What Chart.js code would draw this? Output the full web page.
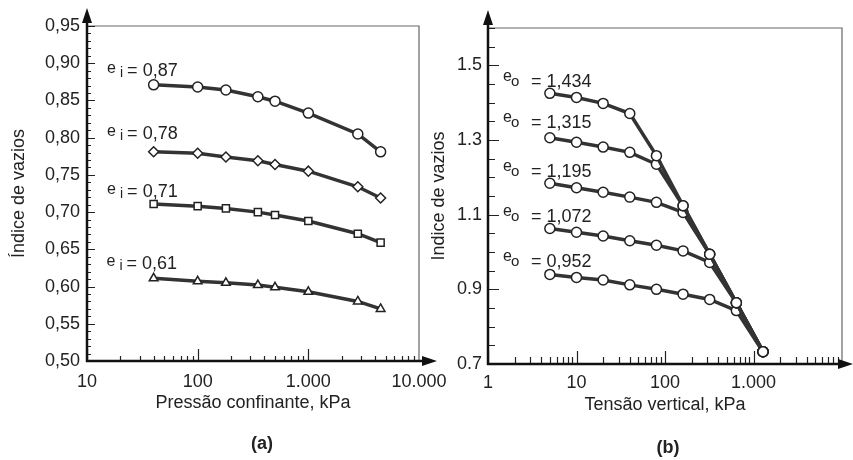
<!DOCTYPE html>
<html>
<head>
<meta charset="utf-8">
<script src="https://cdn.jsdelivr.net/npm/chart.js@4.4.1/dist/chart.umd.min.js"></script>
<style>
  html, body { margin: 0; padding: 0; background: #fff; }
  body { width: 853px; height: 460px; position: relative; overflow: hidden; font-family: 'Liberation Sans', Arial, sans-serif; }
  canvas { position: absolute; top: 0; }
  #chart-a { left: 0; }
  #chart-b { left: 430px; }
  .caption { position: absolute; font-weight: bold; font-size: 18px; color: #222; transform: translateX(-50%); }
</style>
</head>
<body>
<canvas id="chart-a" width="460" height="460"></canvas>
<canvas id="chart-b" width="423" height="460"></canvas>
<div class="caption" style="left:262px; top:433px">(a)</div>
<div class="caption" style="left:668px; top:437px">(b)</div>
<script>
var fonte = "'Liberation Sans', Arial, sans-serif";
Chart.defaults.font.family = fonte;
Chart.defaults.color = '#222';

// (a) pressão confinante (kPa) x índice de vazios
var pressao = [40, 100, 180, 350, 500, 1000, 2800, 4500];
var vaziosA087 = [0.871, 0.868, 0.864, 0.855, 0.849, 0.833, 0.805, 0.781];
var vaziosA078 = [0.781, 0.779, 0.774, 0.769, 0.764, 0.755, 0.734, 0.719];
var vaziosA071 = [0.711, 0.708, 0.705, 0.700, 0.696, 0.688, 0.671, 0.659];
var vaziosA061 = [0.611, 0.607, 0.605, 0.602, 0.599, 0.593, 0.580, 0.570];
var rotulosA = ['0,87', '0,78', '0,71', '0,61'];
var ticksXA = [10, 100, 1000, 10000];
var ticksYA = [0.50, 0.55, 0.60, 0.65, 0.70, 0.75, 0.80, 0.85, 0.90, 0.95];

// (b) tensão vertical (kPa) x índice de vazios
var tensao = [5, 10, 20, 40, 80, 160, 320, 640, 1280];
var vaziosB1434 = [1.425, 1.414, 1.398, 1.371, 1.258, 1.124, 0.994, 0.864, 0.733];
var vaziosB1315 = [1.306, 1.294, 1.281, 1.267, 1.235, 1.124, 0.994, 0.864, 0.733];
var vaziosB1195 = [1.184, 1.172, 1.160, 1.147, 1.133, 1.106, 0.994, 0.864, 0.733];
var vaziosB1072 = [1.063, 1.053, 1.043, 1.030, 1.018, 1.003, 0.972, 0.864, 0.733];
var vaziosB0952 = [0.940, 0.932, 0.925, 0.912, 0.900, 0.887, 0.873, 0.843, 0.733];
var rotulosB = ['1,434', '1,315', '1,195', '1,072', '0,952'];
var ticksXB = [1, 10, 100, 1000];
var ticksYB = [0.7, 0.9, 1.1, 1.3, 1.5];

function milhar(v) {
  return String(v).replace(/\B(?=(\d{3})+(?!\d))/g, '.');
}

function serie(xs, ys, estilo) {
  return {
    data: xs.map(function (x, i) { return { x: x, y: ys[i] }; }),
    borderColor: '#333',
    borderWidth: 3.5,
    pointStyle: estilo,
    pointRadius: 5,
    pointBackgroundColor: '#fff',
    pointBorderColor: '#222',
    pointBorderWidth: 1.5,
    tension: 0
  };
}

// moldura, marcas internas, setas e rótulos e_i / e_o
var decoracao = {
  id: 'decoracao',
  afterDraw: function (chart, args, o) {
    var ctx = chart.ctx, a = chart.chartArea;
    var sx = chart.scales.x, sy = chart.scales.y;
    ctx.save();
    ctx.strokeStyle = '#666';
    ctx.lineWidth = 1.2;
    ctx.beginPath();
    ctx.moveTo(a.left, a.top);
    ctx.lineTo(a.right, a.top);
    ctx.lineTo(a.right, a.bottom);
    ctx.stroke();

    ctx.strokeStyle = '#222';
    ctx.lineWidth = 1.2;
    ctx.beginPath();
    var d0 = Math.round(Math.log10(sx.min)), d1 = Math.round(Math.log10(sx.max));
    for (var d = d0; d < d1; d++) {
      for (var m = 1; m < 10; m++) {
        var px = Math.round(sx.getPixelForValue(m * Math.pow(10, d))) + 0.5;
        var lx = m === 1 ? o.xMajor : o.xMinor;
        ctx.moveTo(px, a.bottom);
        ctx.lineTo(px, a.bottom - lx);
      }
    }
    var n = Math.round((sy.max - sy.min) / o.yStep);
    for (var k = 0; k <= n; k++) {
      var py = Math.round(sy.getPixelForValue(sy.min + k * o.yStep)) + 0.5;
      var ly = k % o.yEvery === 0 ? o.yMajor : o.yMinor;
      ctx.moveTo(a.left, py);
      ctx.lineTo(a.left + ly, py);
    }
    ctx.stroke();

    ctx.strokeStyle = '#111';
    ctx.lineWidth = 2.5;
    ctx.beginPath();
    ctx.moveTo(a.left, a.bottom + 1);
    ctx.lineTo(a.left, o.yTip + 10);
    ctx.moveTo(a.left - 1, a.bottom);
    ctx.lineTo(o.xTip - 10, a.bottom);
    ctx.stroke();
    ctx.fillStyle = '#111';
    ctx.beginPath();
    ctx.moveTo(a.left, o.yTip);
    ctx.lineTo(a.left - 5, o.yTip + 15);
    ctx.lineTo(a.left + 5, o.yTip + 15);
    ctx.closePath();
    ctx.moveTo(o.xTip, a.bottom);
    ctx.lineTo(o.xTip - 15, a.bottom - 5);
    ctx.lineTo(o.xTip - 15, a.bottom + 5);
    ctx.closePath();
    ctx.fill();

    ctx.fillStyle = '#222';
    ctx.textAlign = 'left';
    ctx.textBaseline = 'alphabetic';
    o.notas.forEach(function (nota, i) {
      var x = sx.getPixelForValue(nota.x), y = sy.getPixelForValue(nota.y);
      ctx.font = '16px ' + fonte;
      ctx.fillText('e', x, y - o.eUp);
      ctx.font = o.subSize + 'px ' + fonte;
      ctx.fillText(o.sub, x + o.subDx, y - o.subUp);
      ctx.font = '18px ' + fonte;
      ctx.fillText('= ' + o.rotulos[i], x + o.textDx, y);
    });
    ctx.restore();
  }
};

function semSobra(s) {
  s.paddingLeft = 0;
  s.paddingRight = 0;
  s.paddingTop = 0;
  s.paddingBottom = 0;
}

new Chart(document.getElementById('chart-a'), {
  type: 'line',
  data: {
    datasets: [
      serie(pressao, vaziosA087, 'circle'),
      serie(pressao, vaziosA078, 'rectRot'),
      serie(pressao, vaziosA071, 'rect'),
      serie(pressao, vaziosA061, 'triangle')
    ]
  },
  plugins: [decoracao],
  options: {
    responsive: false,
    animation: false,
    layout: { padding: { top: 26, right: 41, left: 0, bottom: 0 } },
    plugins: {
      legend: { display: false },
      tooltip: { enabled: false },
      decoracao: {
        xMajor: 12, xMinor: 5, yStep: 0.01, yEvery: 5, yMajor: 8, yMinor: 4,
        yTip: 8, xTip: 437,
        eUp: 3, sub: 'i', subSize: 14, subDx: 13, subUp: -1, textDx: 20,
        rotulos: rotulosA,
        notas: [{ x: 15.2, y: 0.883 }, { x: 15.2, y: 0.798 }, { x: 15.2, y: 0.720 }, { x: 15, y: 0.623 }]
      }
    },
    scales: {
      x: {
        type: 'logarithmic', min: 10, max: 10000,
        afterFit: function (s) { s.height = 99; semSobra(s); },
        afterBuildTicks: function (s) { s.ticks = ticksXA.map(function (v) { return { value: v }; }); },
        grid: { display: false, drawTicks: false },
        border: { display: false },
        ticks: { autoSkip: false, maxRotation: 0, padding: 12, font: { size: 18, lineHeight: 1 },
                 callback: function (v) { return milhar(v); } },
        title: { display: true, text: 'Pressão confinante, kPa', font: { size: 18, lineHeight: 1 },
                 padding: { top: 0, bottom: 48 } }
      },
      y: {
        min: 0.5, max: 0.95,
        afterFit: function (s) { s.width = 87; semSobra(s); },
        afterBuildTicks: function (s) { s.ticks = ticksYA.map(function (v) { return { value: v }; }); },
        grid: { display: false, drawTicks: false },
        border: { display: false },
        ticks: { autoSkip: false, padding: 7, font: { size: 18, lineHeight: 1 },
                 callback: function (v) { return v.toFixed(2).replace('.', ','); } },
        title: { display: true, text: 'Índice de vazios', font: { size: 18, lineHeight: 1 },
                 padding: { top: 10, bottom: 0 } }
      }
    }
  }
});

new Chart(document.getElementById('chart-b'), {
  type: 'line',
  data: {
    datasets: [
      serie(tensao, vaziosB1434, 'circle'),
      serie(tensao, vaziosB1315, 'circle'),
      serie(tensao, vaziosB1195, 'circle'),
      serie(tensao, vaziosB1072, 'circle'),
      serie(tensao, vaziosB0952, 'circle')
    ]
  },
  plugins: [decoracao],
  options: {
    responsive: false,
    animation: false,
    layout: { padding: { top: 28, right: 11, left: 0, bottom: 0 } },
    plugins: {
      legend: { display: false },
      tooltip: { enabled: false },
      decoracao: {
        xMajor: 13, xMinor: 7, yStep: 0.05, yEvery: 4, yMajor: 11, yMinor: 7,
        yTip: 10, xTip: 423,
        eUp: 6, sub: 'o', subSize: 15, subDx: 8, subUp: 1, textDx: 28,
        rotulos: rotulosB,
        notas: [{ x: 1.48, y: 1.442 }, { x: 1.48, y: 1.331 }, { x: 1.48, y: 1.2015 }, { x: 1.48, y: 1.081 }, { x: 1.48, y: 0.9605 }]
      }
    },
    scales: {
      x: {
        type: 'logarithmic', min: 1, max: 10000,
        afterFit: function (s) { s.height = 96; semSobra(s); },
        afterBuildTicks: function (s) { s.ticks = ticksXB.map(function (v) { return { value: v }; }); },
        grid: { display: false, drawTicks: false },
        border: { display: false },
        ticks: { autoSkip: false, maxRotation: 0, padding: 10, font: { size: 18, lineHeight: 1 },
                 callback: function (v) { return milhar(v); } },
        title: { display: true, text: 'Tensão vertical, kPa', font: { size: 18, lineHeight: 1 },
                 padding: { top: 0, bottom: 46 } }
      },
      y: {
        min: 0.7, max: 1.6,
        afterFit: function (s) { s.width = 58; semSobra(s); },
        afterBuildTicks: function (s) { s.ticks = ticksYB.map(function (v) { return { value: v }; }); },
        grid: { display: false, drawTicks: false },
        border: { display: false },
        ticks: { autoSkip: false, padding: 6, font: { size: 18, lineHeight: 1 },
                 callback: function (v) { return v.toFixed(1); } },
        title: { display: true, text: 'Índice de vazios', font: { size: 18, lineHeight: 1 },
                 padding: { top: 0, bottom: 0 } }
      }
    }
  }
});
</script>
</body>
</html>
